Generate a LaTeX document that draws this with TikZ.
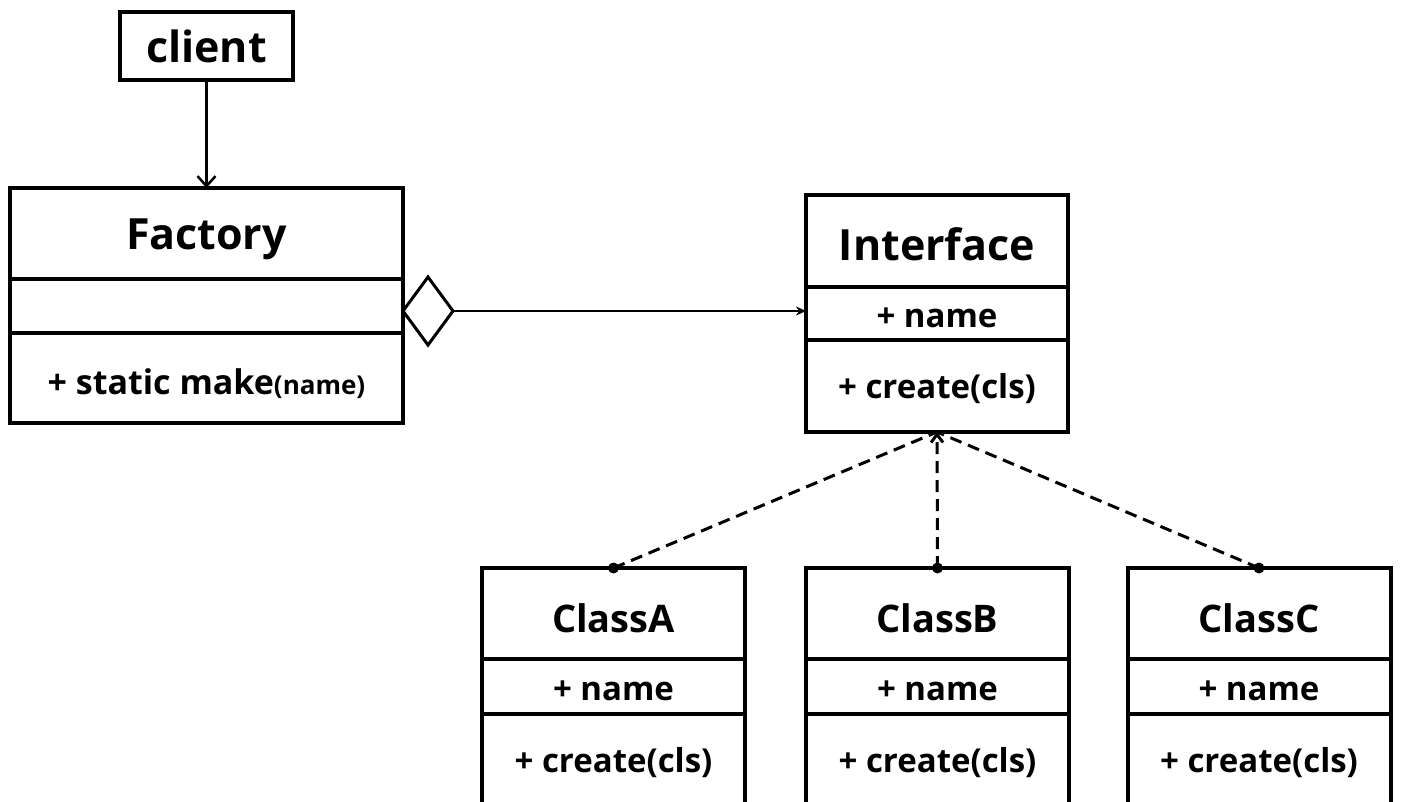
\documentclass[tikz,border=0pt]{standalone}
\usepackage{fontspec}
\setmainfont{Open Sans}
\usetikzlibrary{shapes.geometric,arrows.meta}
\begin{document}
\begin{tikzpicture}[x=1pt,y=-1pt,
  umlbox/.style={draw, line width=4pt, inner sep=0pt, outer sep=0pt, fill=white},
  divider/.style={line width=4pt},
  bigtxt/.style={font=\fontsize{43}{50}\selectfont\bfseries, inner sep=0pt},
  clstxt/.style={font=\fontsize{38}{44}\selectfont\bfseries, inner sep=0pt},
  memtxt/.style={font=\fontsize{33}{38}\selectfont\bfseries, inner sep=0pt},
  conn/.style={line width=2.5pt},
  dashconn/.style={line width=3pt, dash pattern=on 12pt off 7pt},
  enddot/.style={circle, fill=black, inner sep=0pt, minimum size=11pt}
]
\useasboundingbox (0,0) rectangle (1402,802);
\clip (0,0) rectangle (1402,802);
\fill[white] (0,0) rectangle (1402,802);

% client
\node[umlbox, minimum width=173pt, minimum height=68pt] (client) at (206.5,46) {};
\node[bigtxt] (clientT) at (206.5,46) {client};

% Factory
\node[umlbox, minimum width=393pt, minimum height=235pt] (factory) at (206.5,305.5) {};
\draw[divider] (factory.west |- 0,279) -- (factory.east |- 0,279);
\draw[divider] (factory.west |- 0,333) -- (factory.east |- 0,333);
\node[bigtxt] (factoryT) at (206.5,239) {Factory};
\node[inner sep=0pt] (factoryM) at (206.5,384) {\fontsize{34}{40}\selectfont\bfseries + static make\fontsize{26}{32}\selectfont(name)};

% Interface
\node[umlbox, minimum width=262pt, minimum height=237pt] (iface) at (937,313.5) {};
\draw[divider] (iface.west |- 0,287) -- (iface.east |- 0,287);
\draw[divider] (iface.west |- 0,340) -- (iface.east |- 0,340);
\node[bigtxt] (ifaceT) at (937,244) {Interface};
\node[memtxt] (ifaceA) at (937,318) {+ name};
\node[memtxt] (ifaceM) at (937,389) {+ create(cls)};

% Classes
\foreach \nm/\cx/\lbl in {clsA/613.5/ClassA, clsB/937.5/ClassB, clsC/1259/ClassC}{
  \node[umlbox, minimum width=263pt, minimum height=262pt] (\nm) at (\cx,699) {};
  \draw[divider] (\nm.west |- 0,659) -- (\nm.east |- 0,659);
  \draw[divider] (\nm.west |- 0,714) -- (\nm.east |- 0,714);
  \node[clstxt] (\nm T) at (\cx,618) {\lbl};
  \node[memtxt] (\nm A) at (\cx,691) {+ name};
  \node[memtxt] (\nm M) at (\cx,763) {+ create(cls)};
}

% client -> Factory
\draw[conn, -{Straight Barb[length=10pt,width=18pt]}] (client.south) -- (factory.north);

% aggregation
\node[diamond, draw, line width=3pt, fill=white, inner sep=0pt, outer sep=0pt,
      minimum width=50pt, minimum height=68pt, anchor=west] (dia) at (factory.east |- 0,311) {};
\coordinate (ifaceIn) at (iface.west |- dia.east);
\draw[conn, -{Stealth[length=10pt,width=9pt]}] (dia.east) -- (ifaceIn);

% realizations
\coordinate (ifaceB) at (iface.south);
\draw[dashconn] (clsA.north) -- (ifaceB);
\draw[dashconn] (clsC.north) -- (ifaceB);
\draw[dashconn, -{Straight Barb[length=8pt,width=12pt]}] (clsB.north) -- (ifaceB);
\node[enddot] (dotA) at (clsA.north) {};
\node[enddot] (dotB) at (clsB.north) {};
\node[enddot] (dotC) at (clsC.north) {};
\end{tikzpicture}
\end{document}
